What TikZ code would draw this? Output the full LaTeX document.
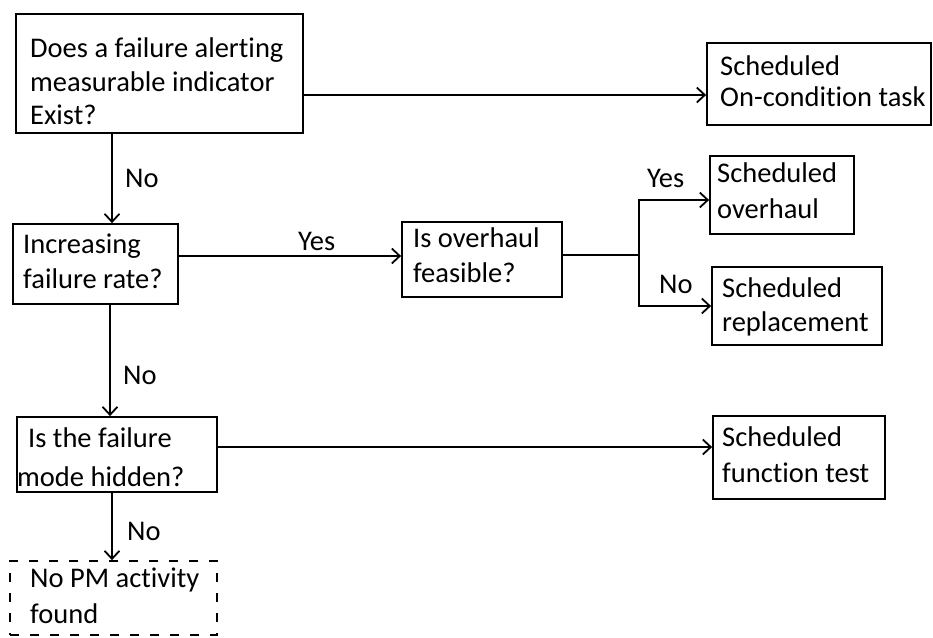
\documentclass[tikz,border=0pt]{standalone}
\usepackage{fontspec}
\setmainfont{Carlito}[Ligatures={NoCommon}]
\usetikzlibrary{arrows.meta,fit}
\begin{document}
\begin{tikzpicture}[x=1pt,y=-1pt,
  box/.style={draw=black,line width=1.8pt,inner sep=0pt},
  dbox/.style={box,dash pattern=on 9pt off 11pt},
  txt/.style={anchor=north west,inner sep=0pt,align=left,font=\fontsize{28.5}{35}\selectfont},
  lbl/.style={anchor=base west,inner sep=0pt,font=\fontsize{28.5}{35}\selectfont},
  conn/.style={line width=1.8pt},
  arr/.style={conn,-{Straight Barb[length=8pt,width=15pt]}}]
\useasboundingbox (0,0) rectangle (933,637);
\fill[white] (0,0) rectangle (933,637);

% decision and task boxes
\node[box,fit={(16,14) (303,133)}] (q1) {};
\node[box,fit={(707,43) (931,125)}] (oc) {};
\node[box,fit={(13,224) (178,304)}] (q2) {};
\node[box,fit={(402,222) (562,297)}] (q3) {};
\node[box,fit={(710,156) (854,234)}] (oh) {};
\node[box,fit={(712,267) (882,345)}] (rp) {};
\node[box,fit={(17,417) (217,492)}] (q4) {};
\node[box,fit={(713,416) (885,499)}] (ft) {};
\node[dbox,fit={(10,561) (217,635)}] (np) {};

% box texts
\node[txt,font=\fontsize{28.5}{33.3}\selectfont] (q1t) at (30,38) {Does a failure alerting\\measurable indicator\\Exist?};
\node[txt,font=\fontsize{28.5}{31}\selectfont] (oct) at (720,56) {Scheduled\\On-condition task};
\node[txt] (q2t) at (23,234) {Increasing\\failure rate?};
\node[txt] (q3t) at (413,228) {Is overhaul\\feasible?};
\node[txt,font=\fontsize{28.5}{36}\selectfont] (oht) at (717,163) {Scheduled\\overhaul};
\node[txt,font=\fontsize{28.5}{34}\selectfont] (rpt) at (722,278) {Scheduled\\replacement};
\node[txt,font=\fontsize{28.5}{39}\selectfont] (q4t) at (28,428) {Is the failure\\\kern-11pt mode hidden?};
\node[txt,font=\fontsize{28.5}{36}\selectfont] (ftt) at (722,427) {Scheduled\\function test};
\node[txt,font=\fontsize{28.5}{36}\selectfont] (npt) at (30,568) {No PM activity\\found};

% connectors
\draw[arr] ([yshift=-21.5pt]q1.east) coordinate (s1) -- (s1 -| oc.west);

\draw[arr] ([xshift=-47.5pt]q1.south) coordinate (s2) -- (s2 |- q2.north);
\node[lbl] (n1) at ([shift={(13,54)}]s2) {No};

\draw[arr] ([yshift=8pt]q2.east) coordinate (s3) -- (s3 -| q3.west);
\node[lbl] (y1) at ([shift={(119,-6)}]s3) {Yes};

\draw[conn] ([yshift=4.5pt]q3.east) -- ++(76,0) coordinate (br);
\draw[arr] (br) |- ([yshift=-5pt]oh.west);
\draw[arr] (br) |- (rp.west);
\node[lbl] (y2) at ([shift={(8,-68)}]br) {Yes};
\node[lbl] (n2) at ([shift={(20,38)}]br) {No};

\draw[arr] ([xshift=14.5pt]q2.south) coordinate (s4) -- (s4 |- q4.north);
\node[lbl] (n3) at ([shift={(13,80)}]s4) {No};

\draw[arr] ([yshift=7.5pt]q4.east) coordinate (s5) -- (s5 -| ft.west);

\draw[arr] ([xshift=-5pt]q4.south) coordinate (s6) -- (s6 |- np.north);
\node[lbl] (n4) at ([shift={(15,48)}]s6) {No};
\end{tikzpicture}
\end{document}
